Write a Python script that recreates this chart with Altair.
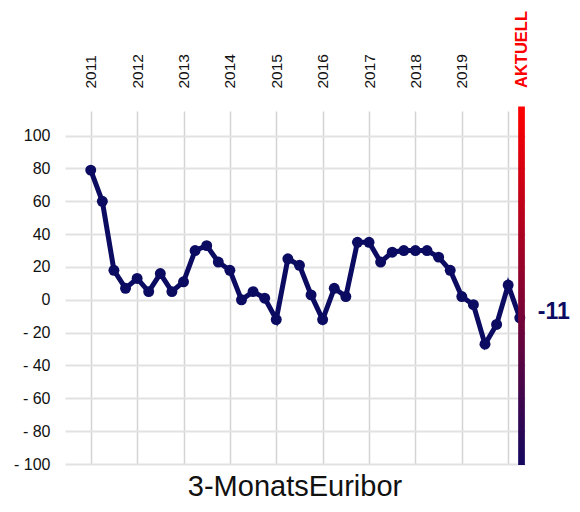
import altair as alt
import pandas as pd

# Quarterly values, 2011 Q1 ... 2020 Q2
values = [79, 60, 18, 7, 13, 5, 16, 5, 11, 30, 33, 23, 18, 0, 5, 1, -12,
          25, 21, 3, -12, 7, 2, 35, 35, 23, 29, 30, 30, 30, 26, 18, 2, -3,
          -27, -15, 9, -11]
year_labels = ["2011", "2012", "2013", "2014", "2015", "2016", "2017", "2018", "2019", ""]
current_label = "AKTUELL"
title_text = "3-MonatsEuribor"

FONT = "Liberation Sans"
NAVY = "#0b0b62"

df = pd.DataFrame({"q": list(range(len(values))), "v": values})
year_ticks = [i * 4 for i in range(len(year_labels))]
label_expr = "[" + ",".join("'%s'" % s for s in year_labels) + "][datum.value / 4]"
y_ticks = list(range(-100, 101, 20))

last_q = len(values) - 1
last_v = values[-1]

xscale = alt.Scale(domain=[-2.22, 37.45], nice=False, zero=False)
yscale = alt.Scale(domain=[-100, 115], nice=False, zero=False)

base = alt.Chart(df)

line = base.mark_line(color=NAVY, strokeWidth=5, clip=False).encode(
    x=alt.X("q:Q", scale=xscale,
            axis=alt.Axis(orient="top", values=year_ticks, labelExpr=label_expr,
                          tickCount=len(year_ticks),
                          labelAngle=270, labelAlign="left", labelBaseline="middle",
                          labelFontSize=15.5, labelFont=FONT, labelColor="#111111",
                          labelPadding=23, ticks=False, domain=False, labelOverlap=False,
                          grid=True, gridColor="#d4d4d4", gridWidth=1.5, title=None)),
    y=alt.Y("v:Q", scale=yscale,
            axis=alt.Axis(values=y_ticks, tickCount=len(y_ticks),
                          labelExpr="datum.value < 0 ? '- ' + abs(datum.value) : '' + datum.value",
                          labelFontSize=16, labelFont=FONT, labelColor="#111111",
                          labelPadding=15, ticks=False, domain=False, labelOverlap=False,
                          grid=True, gridColor="#e2e2e2", gridWidth=2, title=None)),
)

points = base.mark_circle(color=NAVY, size=120, opacity=1, clip=False).encode(
    x="q:Q", y="v:Q"
)

bar_df = pd.DataFrame({"x": [36.86], "x2": [37.44], "y": [-100.6], "y2": [117.7]})
grad = alt.Gradient(
    gradient="linear",
    stops=[alt.GradientStop(color="#ff0000", offset=0),
           alt.GradientStop(color="#14085e", offset=1)],
    x1=0, x2=0, y1=0, y2=1,
)
bar = alt.Chart(bar_df).mark_rect(fill=grad, clip=False).encode(
    x="x:Q", x2="x2:Q", y="y:Q", y2="y2:Q"
)

last_df = pd.DataFrame({"q": [last_q], "v": [last_v], "t": [str(last_v)]})
last_text = alt.Chart(last_df).mark_text(
    align="left", baseline="middle", dx=18, dy=-6,
    font=FONT, fontSize=23, fontWeight="bold", color=NAVY, clip=False
).encode(x="q:Q", y="v:Q", text="t:N")

akt_df = pd.DataFrame({"q": [37.15], "t": [current_label]})
akt_text = alt.Chart(akt_df).mark_text(
    angle=270, align="left", baseline="middle",
    font=FONT, fontSize=16.5, fontWeight="bold", color="#ff0000", clip=False
).encode(x="q:Q", y=alt.value(-23), text="t:N")

chart = alt.layer(line, points, bar, last_text, akt_text).properties(
    width=460, height=353,
    autosize=alt.AutoSizeParams(type="none"),
    padding={"left": 57, "top": 103, "right": 47, "bottom": 40},
    title=alt.TitleParams(title_text, orient="bottom", anchor="middle",
                          font=FONT, fontSize=29, fontWeight="normal",
                          color="#111111", offset=1),
).configure_view(stroke=None)

chart.save("out.html", embed_options={"renderer": "svg", "actions": False})
